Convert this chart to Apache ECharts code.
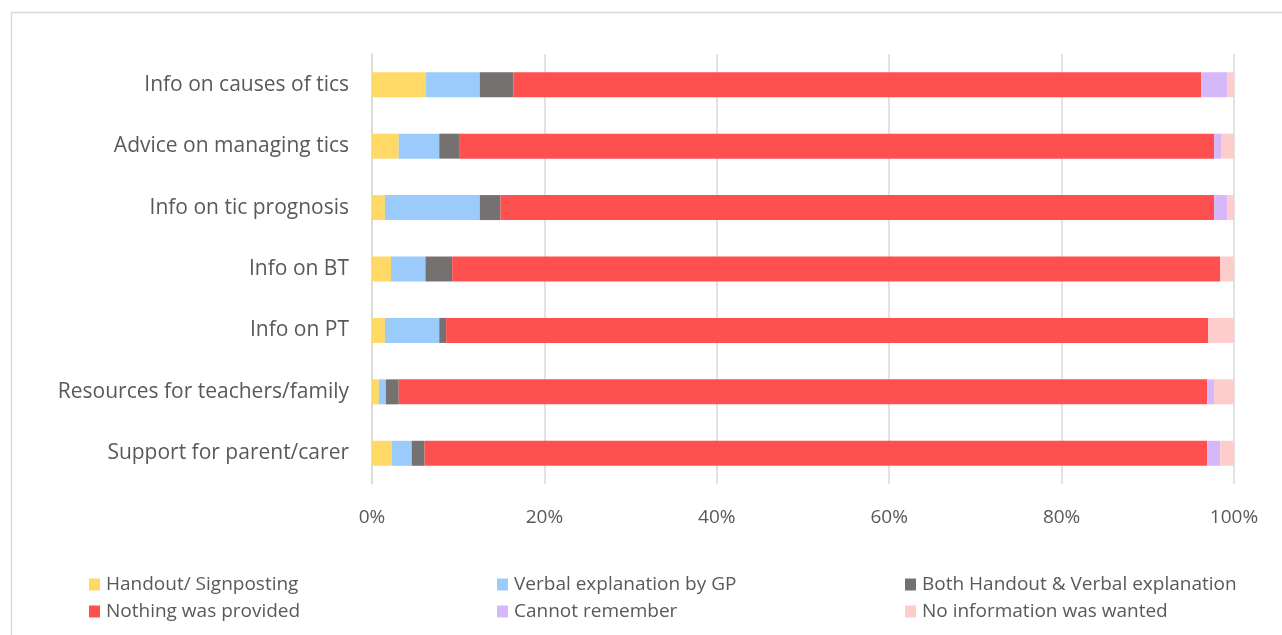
<!DOCTYPE html>
<html><head><meta charset="utf-8">
<script src="https://cdn.jsdelivr.net/npm/echarts@6/dist/echarts.min.js"></script>
<style>html,body{margin:0;padding:0;background:#fff}#c{width:1282px;height:635px}</style>
</head><body><div id="c"></div>
<script>
const categories = ["Info on causes of tics","Advice on managing tics","Info on tic prognosis","Info on BT","Info on PT","Resources for teachers/family","Support for parent/carer"];
const tickLabels = ["0%","20%","40%","60%","80%","100%"];
const handout   = [6.2, 3.1, 1.5, 2.2, 1.5, 0.8, 2.3];
const verbal    = [6.3, 4.7, 11.0, 4.0, 6.3, 0.8, 2.3];
const both      = [3.9, 2.3, 2.4, 3.1, 0.8, 1.5, 1.5];
const nothing   = [79.8, 87.6, 82.8, 89.1, 88.4, 93.8, 90.8];
const cannot    = [3.0, 0.8, 1.5, 0, 0, 0.8, 1.5];
const noInfo    = [0.8, 1.5, 0.8, 1.6, 3.0, 2.3, 1.6];
const seriesNames = ["Handout/ Signposting","Verbal explanation by GP","Both Handout & Verbal explanation","Nothing was provided","Cannot remember","No information was wanted"];
const seriesData = [handout, verbal, both, nothing, cannot, noInfo];
const colors = ["#FFD966","#9BCBFB","#767171","#FF5050","#D6B8FA","#FFCCCC"];

const chart = echarts.init(document.getElementById('c'));
const legendText = {fontFamily:"Open Sans", fontSize:19, color:"#595959", padding:[0,0,0,1]};
function mkLegend(names, left){
  return {orient:'vertical', left:left, top:575, padding:0, itemWidth:11, itemHeight:12, itemGap:8,
    icon:'rect', data:names, textStyle:legendText, selectedMode:false};
}
chart.setOption({
  animation:false,
  color:colors,
  graphic:[{type:'rect', shape:{x:11.5,y:12.5,width:1400,height:700}, style:{fill:'none', stroke:'#d9d9d9', lineWidth:1.5}, silent:true}],
  grid:{left:372, right:48, top:54, height:430, containLabel:false},
  legend:[mkLegend([seriesNames[0],seriesNames[3]],89), mkLegend([seriesNames[1],seriesNames[4]],497), mkLegend([seriesNames[2],seriesNames[5]],905)],
  xAxis:{type:'value', min:0, max:100, interval:20,
    axisLine:{show:false}, axisTick:{show:false},
    splitLine:{show:true, lineStyle:{color:'#d9d9d9', width:1.5}},
    axisLabel:{margin:24, fontFamily:"Open Sans", fontSize:19, color:"#595959",
      formatter:function(v){return tickLabels[Math.round(v/20)];}}},
  yAxis:{type:'category', data:categories, inverse:true,
    axisLine:{show:true, lineStyle:{color:'#d9d9d9', width:1.5}}, axisTick:{show:false},
    axisLabel:{margin:23, fontFamily:"Open Sans", fontSize:21, color:"#595959"}},
  series:seriesNames.map((n,i)=>({name:n, type:'bar', stack:'total', barWidth:25, data:seriesData[i], itemStyle:{color:colors[i]}}))
});
</script></body></html>
